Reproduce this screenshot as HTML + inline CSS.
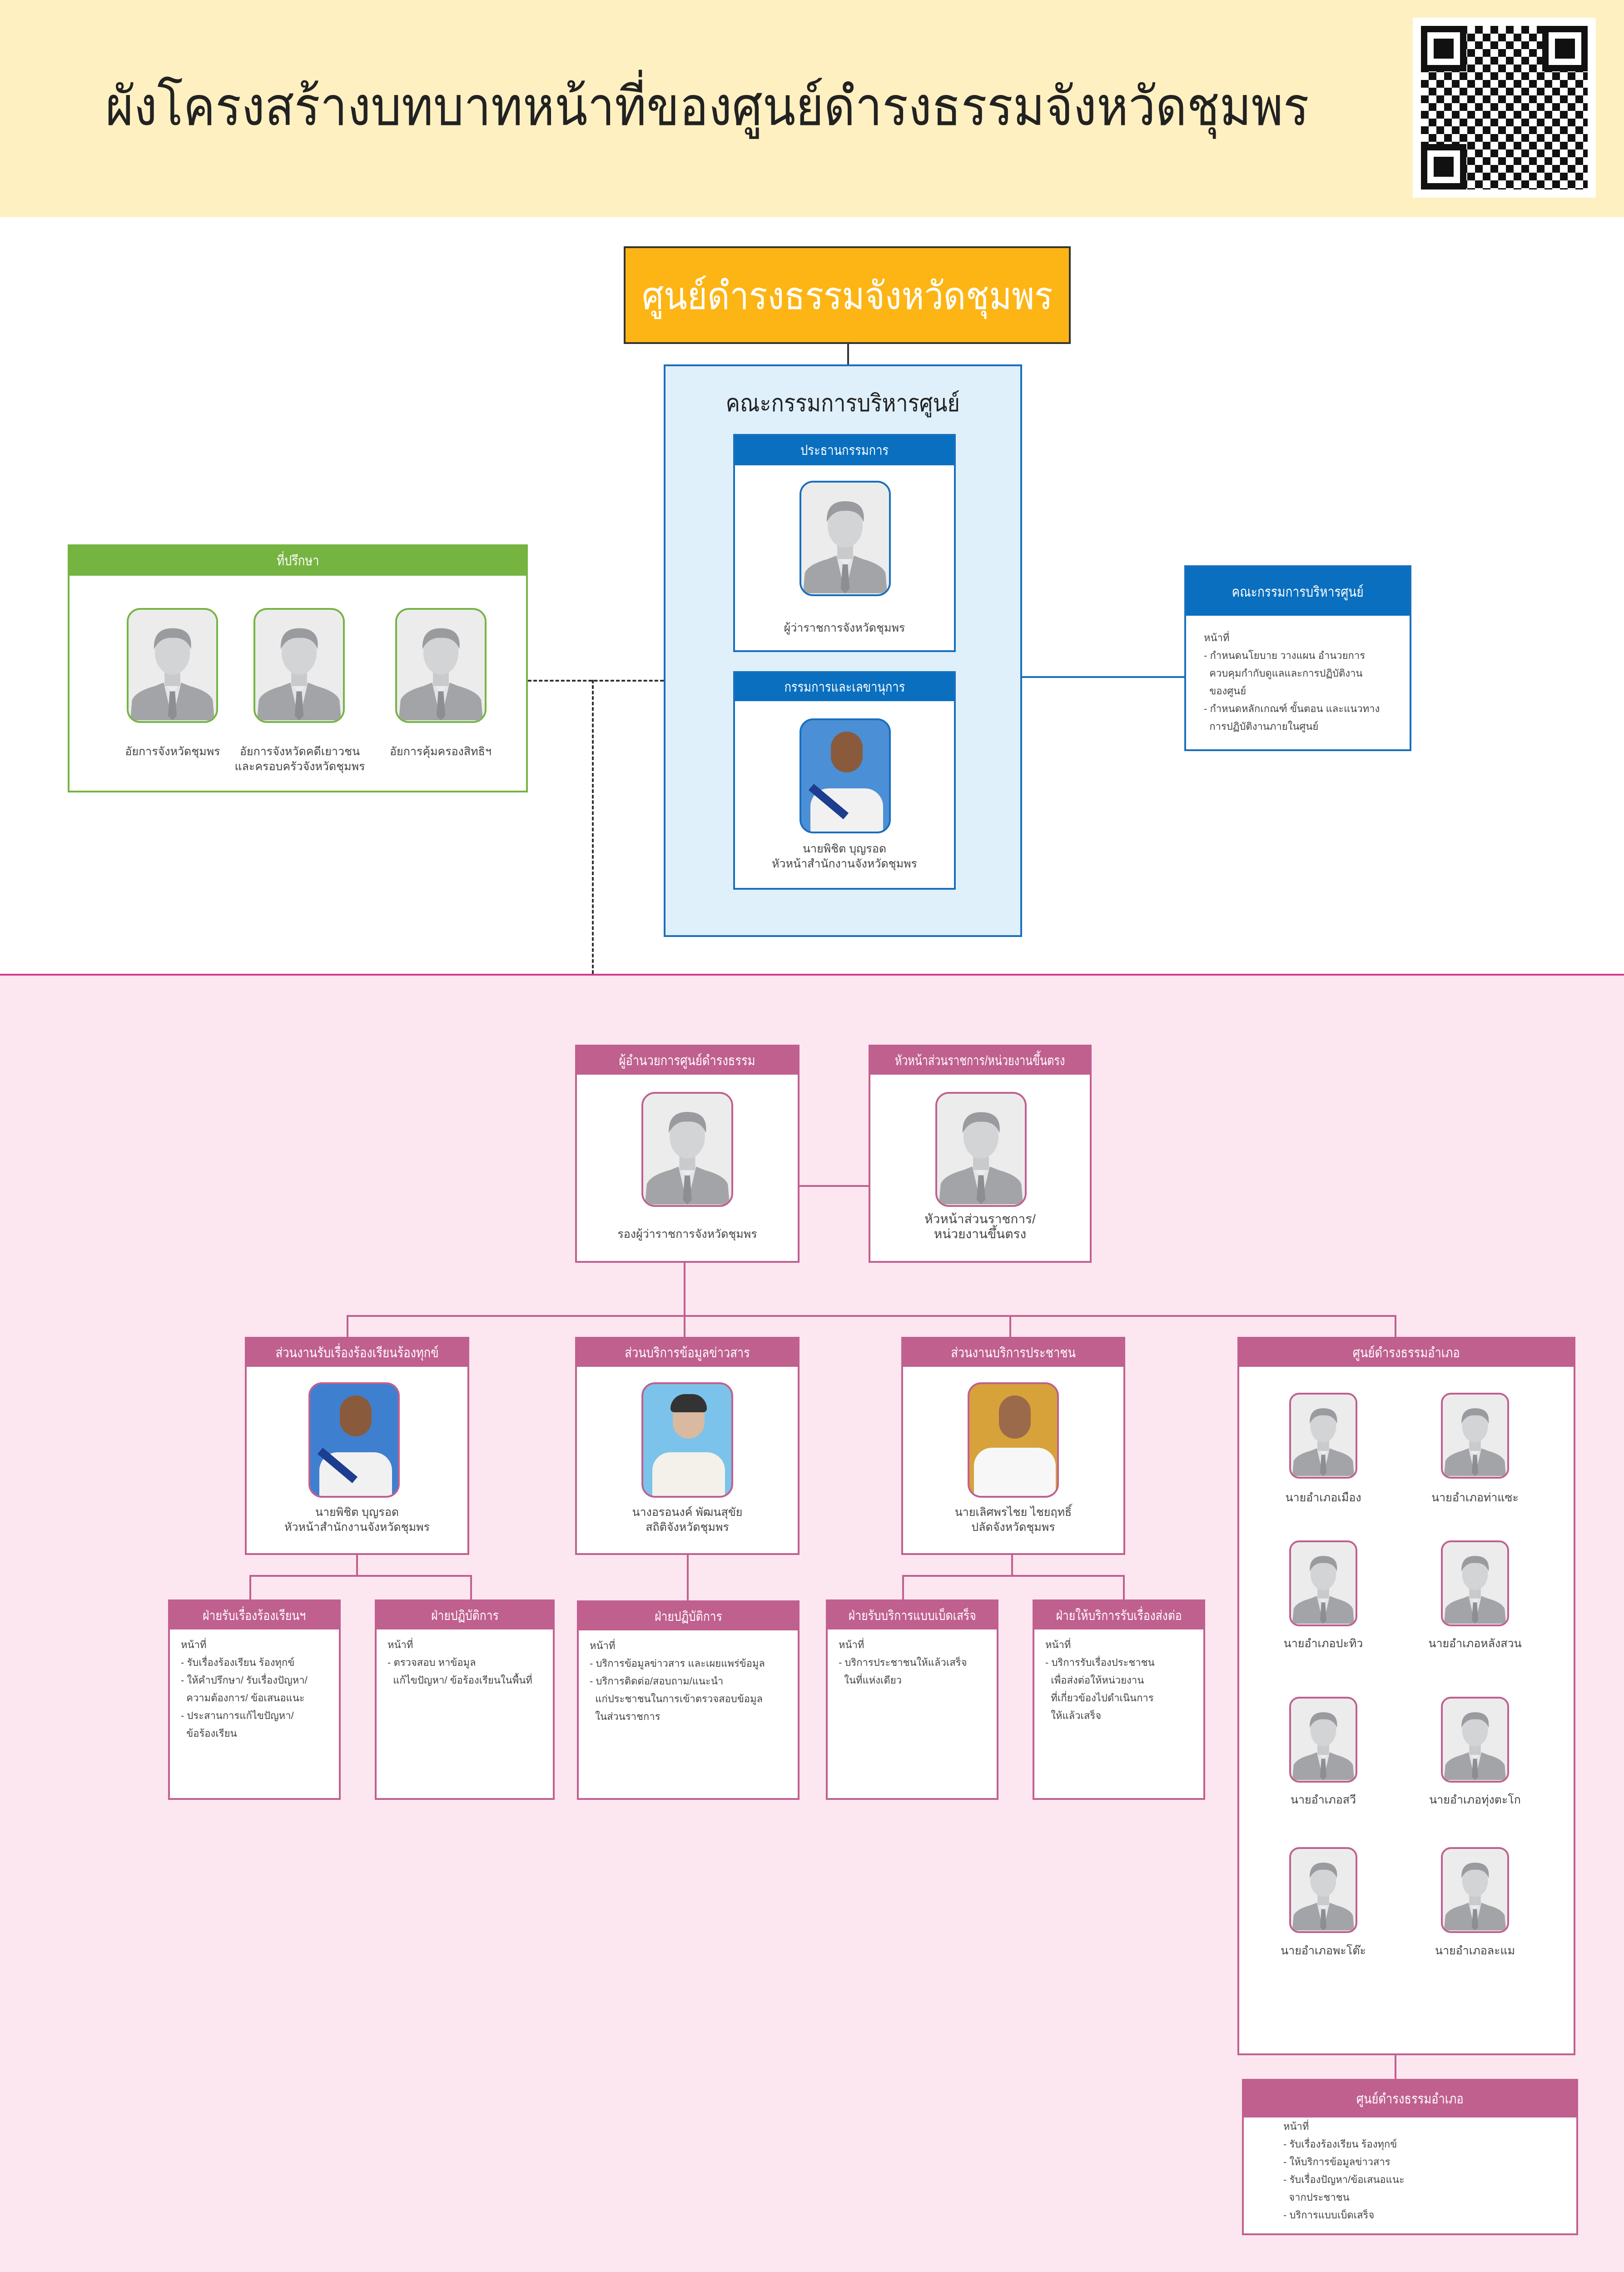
<!DOCTYPE html>
<html><head><meta charset="utf-8"><style>
*{margin:0;padding:0;box-sizing:border-box}
html{width:3575px;height:5090px;overflow:hidden}
body{width:3575px;height:5090px;position:relative;background:#fff;font-family:"Liberation Sans","Noto Sans CJK SC",sans-serif;overflow:hidden}
.a{position:absolute}
.box{position:absolute;background:#fff}
.hd{position:absolute;left:0;right:0;top:0;color:#fff;text-align:center;font-size:30px;display:flex;align-items:center;justify-content:center;white-space:nowrap;overflow:hidden}
.hd span{display:inline-block;transform:scaleX(0.85)}
.ph{position:absolute;border-radius:30px;overflow:hidden;background:#ececed}
.ph svg{width:100%;height:100%;display:block}
.cap{position:absolute;text-align:center;font-size:25px;color:#444;line-height:33px;white-space:nowrap}
.txt{position:absolute;font-size:24px;color:#444;line-height:39px;white-space:nowrap}
.ln{position:absolute;background:#c0608f}
.pk{border:4px solid #c0608f}
.pk .hd{background:#c0608f}
.bl{border:4px solid #1a6fbd}
.bl .hd{background:#0a6fbf}
</style></head><body>
<svg width="0" height="0" style="position:absolute"><defs>
<symbol id="p" viewBox="0 0 100 125">
<rect width="100" height="125" fill="#ececed"/>
<path d="M2 125 L4 102 Q8 92 30 86 L40 82 L50 95 L60 82 L70 86 Q92 92 96 102 L98 125Z" fill="#a3a4a7"/>
<path d="M40 82 L50 125 L60 82 L50 95Z" fill="#e4e4e6"/>
<path d="M47 92 L53 92 L55 120 L50 125 L45 120Z" fill="#8d8e91"/>
<rect x="41" y="62" width="18" height="24" fill="#c9cacc"/>
<ellipse cx="50" cy="48" rx="20" ry="25" fill="#d3d4d6"/>
<path d="M29 44 Q28 20 50 20 Q74 20 71 44 Q66 30 50 31 Q36 30 29 44Z" fill="#9a9b9e"/>
</symbol>
</defs></svg>

<!-- header -->
<div class="a" style="left:0;top:0;width:3575px;height:478px;background:#fff0c2"></div>
<div class="a" style="left:232px;top:160px;font-size:118px;color:#222;white-space:nowrap;line-height:150px;transform:scaleX(0.9);transform-origin:left top">ผังโครงสร้างบทบาทหน้าที่ของศูนย์ดำรงธรรมจังหวัดชุมพร</div>
<div class="a" style="left:3110px;top:39px;width:403px;height:396px;background:#fff;padding:18px">
<div style="width:100%;height:100%;background:repeating-conic-gradient(#111 0 25%,#fff 0 50%) 0 0/34px 34px;position:relative">
<div style="position:absolute;left:0;top:0;width:100px;height:100px;border:14px solid #111;background:#fff"><div style="margin:14px;height:44px;background:#111"></div></div>
<div style="position:absolute;right:0;top:0;width:100px;height:100px;border:14px solid #111;background:#fff"><div style="margin:14px;height:44px;background:#111"></div></div>
<div style="position:absolute;left:0;bottom:0;width:100px;height:100px;border:14px solid #111;background:#fff"><div style="margin:14px;height:44px;background:#111"></div></div>
</div></div>

<!-- pink section -->
<div class="a" style="left:0;top:2143px;width:3575px;height:2937px;background:#fce6f0;border-top:4px solid #d43c8a"></div>
<div class="a" style="left:0;top:5080px;width:3575px;height:10px;background:#b52f86"></div>

<!-- main -->
<div class="a" style="left:1373px;top:542px;width:984px;height:215px;background:#fdb515;border:4px solid #333;color:#fff;font-size:84px;display:flex;align-items:center;justify-content:center;white-space:nowrap;overflow:hidden"><span style="display:inline-block;transform:scaleX(0.9)">ศูนย์ดำรงธรรมจังหวัดชุมพร</span></div>
<div class="a" style="left:1865px;top:757px;width:4px;height:46px;background:#333"></div>

<div class="a" style="left:1461px;top:802px;width:789px;height:1260px;background:#dff0fb;border:4px solid #1a6fbd"></div>
<div class="a" style="left:1461px;top:845px;width:789px;text-align:center;font-size:52px;color:#222"><span style="display:inline-block;transform:scaleX(0.9)">คณะกรรมการบริหารศูนย์</span></div>

<div class="box bl" style="left:1614px;top:955px;width:490px;height:480px"><div class="hd" style="height:65px"><span>ประธานกรรมการ</span></div></div>
<div class="ph" style="left:1760px;top:1058px;width:201px;height:254px;border:4px solid #1a6fbd"><svg><use href="#p"/></svg></div>
<div class="cap" style="left:1614px;top:1366px;width:490px">ผู้ว่าราชการจังหวัดชุมพร</div>

<div class="box bl" style="left:1614px;top:1477px;width:490px;height:481px"><div class="hd" style="height:62px"><span>กรรมการและเลขานุการ</span></div></div>
<div class="ph" style="left:1760px;top:1581px;width:201px;height:253px;border:4px solid #1a6fbd;background:#4b8fd6">
<div class="a" style="left:20px;top:150px;width:160px;height:110px;background:#f1f1f1;border-radius:40px 40px 0 0"></div>
<div class="a" style="left:65px;top:25px;width:70px;height:90px;background:#8a5a3c;border-radius:35px"></div>
<div class="a" style="left:10px;top:170px;width:100px;height:18px;background:#1d3d8f;transform:rotate(40deg)"></div></div>
<div class="cap" style="left:1614px;top:1852px;width:490px">นายพิชิต บุญรอด<br>หัวหน้าสำนักงานจังหวัดชุมพร</div>

<!-- advisors -->
<div class="box" style="left:149px;top:1198px;width:1013px;height:546px;border:4px solid #76b442"><div class="hd" style="height:65px;background:#76b442"><span>ที่ปรึกษา</span></div></div>
<div class="ph" style="left:279px;top:1338px;width:201px;height:253px;border:4px solid #76b442"><svg><use href="#p"/></svg></div>
<div class="ph" style="left:558px;top:1338px;width:201px;height:253px;border:4px solid #76b442"><svg><use href="#p"/></svg></div>
<div class="ph" style="left:870px;top:1338px;width:201px;height:253px;border:4px solid #76b442"><svg><use href="#p"/></svg></div>
<div class="cap" style="left:230px;top:1638px;width:300px">อัยการจังหวัดชุมพร</div>
<div class="cap" style="left:500px;top:1638px;width:320px">อัยการจังหวัดคดีเยาวชน<br>และครอบครัวจังหวัดชุมพร</div>
<div class="cap" style="left:820px;top:1638px;width:300px">อัยการคุ้มครองสิทธิฯ</div>

<div class="a" style="left:1162px;top:1496px;width:299px;border-top:4px dashed #333"></div>
<div class="a" style="left:1303px;top:1496px;height:647px;border-left:4px dashed #333"></div>

<!-- right blue -->
<div class="a" style="left:2250px;top:1488px;width:357px;height:4px;background:#1a6fbd"></div>
<div class="box bl" style="left:2607px;top:1244px;width:500px;height:409px"><div class="hd" style="height:107px;font-size:31px"><span>คณะกรรมการบริหารศูนย์</span></div></div>
<div class="txt" style="left:2650px;top:1384px;font-size:22px">หน้าที่<br>- กำหนดนโยบาย วางแผน อำนวยการ<br>&nbsp;&nbsp;ควบคุมกำกับดูแลและการปฏิบัติงาน<br>&nbsp;&nbsp;ของศูนย์<br>- กำหนดหลักเกณฑ์ ขั้นตอน และแนวทาง<br>&nbsp;&nbsp;การปฏิบัติงานภายในศูนย์</div>

<!-- pink top row -->
<div class="box pk" style="left:1266px;top:2299px;width:494px;height:480px"><div class="hd" style="height:62px"><span>ผู้อำนวยการศูนย์ดำรงธรรม</span></div></div>
<div class="ph" style="left:1412px;top:2403px;width:202px;height:253px;border:4px solid #c0608f"><svg><use href="#p"/></svg></div>
<div class="cap" style="left:1266px;top:2700px;width:494px">รองผู้ว่าราชการจังหวัดชุมพร</div>
<div class="box pk" style="left:1912px;top:2299px;width:491px;height:480px"><div class="hd" style="height:62px"><span style="transform:scaleX(0.78)">หัวหน้าส่วนราชการ/หน่วยงานขึ้นตรง</span></div></div>
<div class="ph" style="left:2059px;top:2403px;width:201px;height:253px;border:4px solid #c0608f"><svg><use href="#p"/></svg></div>
<div class="cap" style="left:1912px;top:2666px;width:491px;font-size:28px">หัวหน้าส่วนราชการ/<br>หน่วยงานขึ้นตรง</div>
<div class="ln" style="left:1760px;top:2608px;width:152px;height:4px"></div>
<div class="ln" style="left:1505px;top:2779px;width:4px;height:117px"></div>
<div class="ln" style="left:763px;top:2894px;width:2311px;height:4px"></div>
<div class="ln" style="left:763px;top:2894px;width:4px;height:48px"></div>
<div class="ln" style="left:1505px;top:2894px;width:4px;height:48px"></div>
<div class="ln" style="left:2222px;top:2894px;width:4px;height:48px"></div>
<div class="ln" style="left:3070px;top:2894px;width:4px;height:48px"></div>

<!-- second row -->
<div class="box pk" style="left:539px;top:2942px;width:494px;height:480px"><div class="hd" style="height:62px"><span>ส่วนงานรับเรื่องร้องเรียนร้องทุกข์</span></div></div>
<div class="ph" style="left:679px;top:3042px;width:201px;height:254px;border:4px solid #c0608f;background:#3f7fd0">
<div class="a" style="left:20px;top:150px;width:160px;height:110px;background:#f1f1f1;border-radius:40px 40px 0 0"></div>
<div class="a" style="left:65px;top:25px;width:70px;height:90px;background:#8a5a3c;border-radius:35px"></div>
<div class="a" style="left:10px;top:170px;width:100px;height:18px;background:#1d3d8f;transform:rotate(40deg)"></div></div>
<div class="cap" style="left:539px;top:3312px;width:494px">นายพิชิต บุญรอด<br>หัวหน้าสำนักงานจังหวัดชุมพร</div>

<div class="box pk" style="left:1266px;top:2942px;width:494px;height:480px"><div class="hd" style="height:62px"><span>ส่วนบริการข้อมูลข่าวสาร</span></div></div>
<div class="ph" style="left:1412px;top:3042px;width:202px;height:254px;border:4px solid #c0608f;background:#7bc3ea">
<div class="a" style="left:20px;top:150px;width:160px;height:110px;background:#f3f1ea;border-radius:40px 40px 0 0"></div>
<div class="a" style="left:65px;top:30px;width:70px;height:90px;background:#d9b9a0;border-radius:35px"></div>
<div class="a" style="left:60px;top:22px;width:80px;height:40px;background:#333;border-radius:40px 40px 10px 10px"></div></div>
<div class="cap" style="left:1266px;top:3312px;width:494px">นางอรอนงค์ พัฒนสุขัย<br>สถิติจังหวัดชุมพร</div>

<div class="box pk" style="left:1984px;top:2942px;width:493px;height:480px"><div class="hd" style="height:62px"><span>ส่วนงานบริการประชาชน</span></div></div>
<div class="ph" style="left:2130px;top:3042px;width:201px;height:254px;border:4px solid #c0608f;background:#d7a23a">
<div class="a" style="left:10px;top:140px;width:180px;height:120px;background:#f7f7f7;border-radius:40px 40px 0 0"></div>
<div class="a" style="left:65px;top:25px;width:70px;height:95px;background:#9a6a4a;border-radius:35px"></div></div>
<div class="cap" style="left:1984px;top:3312px;width:493px">นายเลิศพรไชย ไชยฤทธิ์<br>ปลัดจังหวัดชุมพร</div>

<!-- connectors to sub -->
<div class="ln" style="left:784px;top:3422px;width:4px;height:48px"></div>
<div class="ln" style="left:549px;top:3466px;width:490px;height:4px"></div>
<div class="ln" style="left:549px;top:3466px;width:4px;height:54px"></div>
<div class="ln" style="left:1035px;top:3466px;width:4px;height:54px"></div>
<div class="ln" style="left:1512px;top:3422px;width:4px;height:100px"></div>
<div class="ln" style="left:2226px;top:3422px;width:4px;height:48px"></div>
<div class="ln" style="left:1986px;top:3466px;width:490px;height:4px"></div>
<div class="ln" style="left:1986px;top:3466px;width:4px;height:54px"></div>
<div class="ln" style="left:2472px;top:3466px;width:4px;height:54px"></div>

<!-- sub boxes -->
<div class="box pk" style="left:370px;top:3520px;width:380px;height:441px"><div class="hd" style="height:62px;font-size:29px"><span>ฝ่ายรับเรื่องร้องเรียนฯ</span></div></div>
<div class="txt" style="left:398px;top:3600px;font-size:22px">หน้าที่<br>- รับเรื่องร้องเรียน ร้องทุกข์<br>- ให้คำปรึกษา/ รับเรื่องปัญหา/<br>&nbsp;&nbsp;ความต้องการ/ ข้อเสนอแนะ<br>- ประสานการแก้ไขปัญหา/<br>&nbsp;&nbsp;ข้อร้องเรียน</div>
<div class="box pk" style="left:825px;top:3520px;width:396px;height:441px"><div class="hd" style="height:62px;font-size:29px"><span>ฝ่ายปฏิบัติการ</span></div></div>
<div class="txt" style="left:853px;top:3600px;font-size:22px">หน้าที่<br>- ตรวจสอบ หาข้อมูล<br>&nbsp;&nbsp;แก้ไขปัญหา/ ข้อร้องเรียนในพื้นที่</div>
<div class="box pk" style="left:1270px;top:3522px;width:490px;height:439px"><div class="hd" style="height:62px;font-size:29px"><span>ฝ่ายปฏิบัติการ</span></div></div>
<div class="txt" style="left:1298px;top:3602px;font-size:22px">หน้าที่<br>- บริการข้อมูลข่าวสาร และเผยแพร่ข้อมูล<br>- บริการติดต่อ/สอบถาม/แนะนำ<br>&nbsp;&nbsp;แก่ประชาชนในการเข้าตรวจสอบข้อมูล<br>&nbsp;&nbsp;ในส่วนราชการ</div>
<div class="box pk" style="left:1818px;top:3520px;width:380px;height:441px"><div class="hd" style="height:62px;font-size:29px"><span>ฝ่ายรับบริการแบบเบ็ดเสร็จ</span></div></div>
<div class="txt" style="left:1846px;top:3600px;font-size:22px">หน้าที่<br>- บริการประชาชนให้แล้วเสร็จ<br>&nbsp;&nbsp;ในที่แห่งเดียว</div>
<div class="box pk" style="left:2273px;top:3520px;width:380px;height:441px"><div class="hd" style="height:62px;font-size:29px"><span>ฝ่ายให้บริการรับเรื่องส่งต่อ</span></div></div>
<div class="txt" style="left:2301px;top:3600px;font-size:22px">หน้าที่<br>- บริการรับเรื่องประชาชน<br>&nbsp;&nbsp;เพื่อส่งต่อให้หน่วยงาน<br>&nbsp;&nbsp;ที่เกี่ยวข้องไปดำเนินการ<br>&nbsp;&nbsp;ให้แล้วเสร็จ</div>

<!-- amphoe -->
<div class="box pk" style="left:2724px;top:2942px;width:744px;height:1581px"><div class="hd" style="height:62px"><span>ศูนย์ดำรงธรรมอำเภอ</span></div></div>
<div class="ph" style="left:2838px;top:3065px;width:150px;height:189px;border:4px solid #c0608f;border-radius:22px"><svg><use href="#p"/></svg></div>
<div class="ph" style="left:3172px;top:3065px;width:150px;height:189px;border:4px solid #c0608f;border-radius:22px"><svg><use href="#p"/></svg></div>
<div class="ph" style="left:2838px;top:3390px;width:150px;height:189px;border:4px solid #c0608f;border-radius:22px"><svg><use href="#p"/></svg></div>
<div class="ph" style="left:3172px;top:3390px;width:150px;height:189px;border:4px solid #c0608f;border-radius:22px"><svg><use href="#p"/></svg></div>
<div class="ph" style="left:2838px;top:3734px;width:150px;height:189px;border:4px solid #c0608f;border-radius:22px"><svg><use href="#p"/></svg></div>
<div class="ph" style="left:3172px;top:3734px;width:150px;height:189px;border:4px solid #c0608f;border-radius:22px"><svg><use href="#p"/></svg></div>
<div class="ph" style="left:2838px;top:4065px;width:150px;height:189px;border:4px solid #c0608f;border-radius:22px"><svg><use href="#p"/></svg></div>
<div class="ph" style="left:3172px;top:4065px;width:150px;height:189px;border:4px solid #c0608f;border-radius:22px"><svg><use href="#p"/></svg></div>
<div class="cap" style="left:2763px;top:3280px;width:300px">นายอำเภอเมือง</div>
<div class="cap" style="left:3097px;top:3280px;width:300px">นายอำเภอท่าแซะ</div>
<div class="cap" style="left:2763px;top:3601px;width:300px">นายอำเภอปะทิว</div>
<div class="cap" style="left:3097px;top:3601px;width:300px">นายอำเภอหลังสวน</div>
<div class="cap" style="left:2763px;top:3945px;width:300px">นายอำเภอสวี</div>
<div class="cap" style="left:3097px;top:3945px;width:300px">นายอำเภอทุ่งตะโก</div>
<div class="cap" style="left:2763px;top:4277px;width:300px">นายอำเภอพะโต๊ะ</div>
<div class="cap" style="left:3097px;top:4277px;width:300px">นายอำเภอละแม</div>
<div class="ln" style="left:3070px;top:4523px;width:4px;height:52px"></div>
<div class="box pk" style="left:2734px;top:4575px;width:740px;height:344px"><div class="hd" style="height:81px"><span>ศูนย์ดำรงธรรมอำเภอ</span></div></div>
<div class="txt" style="left:2825px;top:4660px;font-size:22px">หน้าที่<br>- รับเรื่องร้องเรียน ร้องทุกข์<br>- ให้บริการข้อมูลข่าวสาร<br>- รับเรื่องปัญหา/ข้อเสนอแนะ<br>&nbsp;&nbsp;จากประชาชน<br>- บริการแบบเบ็ดเสร็จ</div>
</body></html>
